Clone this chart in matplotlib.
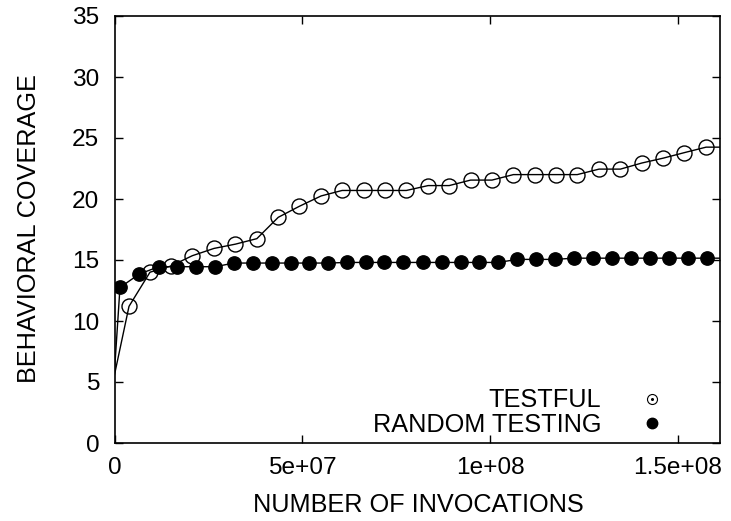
import matplotlib
matplotlib.use("Agg")
import matplotlib.pyplot as plt
from matplotlib.lines import Line2D
from matplotlib.legend_handler import HandlerTuple

plt.rcParams['font.family'] = ['Liberation Sans', 'DejaVu Sans']

# TESTFUL (open circles)
testful_x = [0.0, 3.86e6, 9.45e6, 14.96e6, 20.7e6, 26.5e6, 32.2e6, 37.9e6, 43.6e6, 49.2e6,
             55.0e6, 60.6e6, 66.3e6, 72.0e6, 77.7e6, 83.5e6, 89.1e6, 94.8e6, 100.5e6,
             106.2e6, 111.9e6, 117.5e6, 123.2e6, 129.0e6, 134.7e6, 140.4e6, 146.1e6,
             151.7e6, 157.5e6, 161.2e6]
testful_y = [5.6, 11.2, 14.0, 14.5, 15.35, 15.95, 16.3, 16.75, 18.5, 19.4,
             20.25, 20.7, 20.7, 20.7, 20.7, 21.1, 21.1, 21.55, 21.55,
             22.0, 22.0, 22.0, 22.0, 22.45, 22.45, 22.95, 23.35, 23.8, 24.25, 24.25]

# RANDOM TESTING (filled circles)
random_x = [0.0, 1.46e6, 6.6e6, 11.8e6, 16.7e6, 21.8e6, 26.8e6, 31.8e6, 36.8e6, 41.9e6,
            46.9e6, 51.9e6, 56.9e6, 61.9e6, 66.9e6, 71.8e6, 76.9e6, 82.1e6, 87.1e6,
            92.2e6, 97.1e6, 102.2e6, 107.2e6, 112.3e6, 117.3e6, 122.3e6, 127.4e6,
            132.5e6, 137.5e6, 142.6e6, 147.5e6, 152.6e6, 157.7e6, 161.2e6]
random_y = [5.9, 12.75, 13.85, 14.45, 14.45, 14.45, 14.45, 14.75, 14.75, 14.75,
            14.75, 14.75, 14.75, 14.8, 14.8, 14.8, 14.8, 14.8, 14.8,
            14.8, 14.8, 14.8, 15.05, 15.05, 15.05, 15.15, 15.15, 15.15,
            15.15, 15.15, 15.15, 15.15, 15.15, 15.15]

x_ticks = [0, 5e7, 1e8, 1.5e8]
x_tick_labels = ["0", "5e+07", "1e+08", "1.5e+08"]
y_ticks = [0, 5, 10, 15, 20, 25, 30, 35]
series_labels = ["TESTFUL", "RANDOM TESTING"]

fig = plt.figure(figsize=(7.31, 5.21), dpi=100)
ax = fig.add_axes([114.5 / 731, 1 - 443 / 521, (720 - 114.5) / 731, (443 - 16) / 521])

ax.plot(testful_x, testful_y, color='black', lw=1.0, marker='o', markersize=10.8,
        markerfacecolor='none', markeredgecolor='black', markeredgewidth=1.0,
        markevery=list(range(1, len(testful_x) - 1)), zorder=3)
ax.plot(random_x, random_y, color='black', lw=1.0, marker='o', markersize=9.6,
        markerfacecolor='black', markeredgecolor='black',
        markevery=list(range(1, len(random_x) - 1)), zorder=2)

ax.set_xlim(0, 161.2e6)
ax.set_ylim(0, 35)
ax.set_xticks(x_ticks)
ax.set_xticklabels(x_tick_labels)
ax.set_yticks(y_ticks)
ax.tick_params(direction='in', length=6, width=1.0, top=True, right=True,
               labelsize=17.6, colors='black')
ax.tick_params(axis='x', pad=10)
ax.tick_params(axis='y', pad=11)
for s in ax.spines.values():
    s.set_linewidth(1.2)

fig.text(418 / 731, 1 - 504.5 / 521, "NUMBER OF INVOCATIONS", ha='center', va='center',
         fontsize=18.2)
fig.text(29 / 731, 1 - 229 / 521, "BEHAVIORAL COVERAGE", ha='center', va='center',
         rotation=90, fontsize=18.2)

h_open = Line2D([], [], linestyle='none', marker='o', markersize=7.2,
                markerfacecolor='none', markeredgecolor='black', markeredgewidth=0.8)
h_dot = Line2D([], [], linestyle='none', marker='o', markersize=1.2,
               markerfacecolor='black', markeredgecolor='black')
h_fill = Line2D([], [], linestyle='none', marker='o', markersize=7.5,
                markerfacecolor='black', markeredgecolor='black')
leg = ax.legend([(h_open, h_dot), h_fill], series_labels,
                handler_map={tuple: HandlerTuple(ndivide=1)},
                markerfirst=False, frameon=False, fontsize=18.2,
                loc='lower right', bbox_to_anchor=(0.9415, -0.022),
                handlelength=1.4, handletextpad=1.3, labelspacing=0.03,
                borderaxespad=0.2)

fig.savefig("out.png", dpi=100)
